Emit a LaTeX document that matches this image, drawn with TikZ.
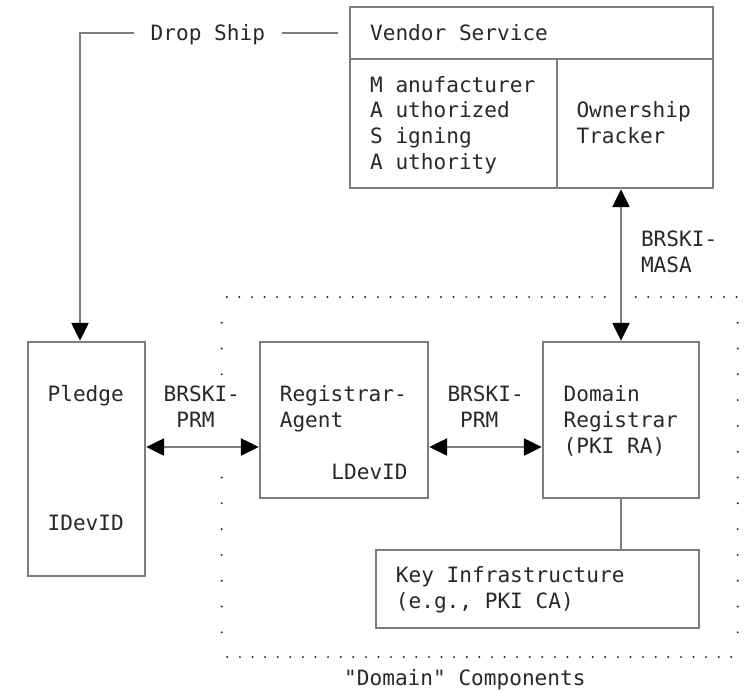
\documentclass[tikz,border=0pt]{standalone}
\usepackage{fontspec}
\usetikzlibrary{arrows.meta,positioning}
\newfontfamily\diagfont{DejaVu Sans Mono}
\definecolor{linegray}{RGB}{125,125,125}
\definecolor{inkgray}{RGB}{40,40,40}
\tikzset{
      mybox/.style 2 args={
        draw=linegray,
        line width=2.4pt,
        inner sep=0pt,
        minimum width=#1,
        minimum height=#2
      },
      mytext/.style={
        anchor=base west,
        inner sep=0pt,
        align=left,
        text=inkgray,
        font=\diagfont\fontsize{21.1pt}{25.8pt}\selectfont
      },
      mylink/.style={
        draw=linegray,
        line width=2.4pt
      },
      mydots/.style={
        draw=inkgray,
        line width=2.2pt,
        line cap=round,
        dash pattern=on 0pt off #1
      },
    }

\begin{document}
\begin{tikzpicture}[x=1pt,y=-1pt,>={Triangle[length=18pt,width=17pt,color=black]}]
  \useasboundingbox (0,0) rectangle (746,691);

  %Vendor service (multi-line texts sit on their last baseline)
  \node[mybox={363pt}{52pt}] (vendorhead) at (531.5,33) {};
  \node[mybox={207pt}{129pt}] (masa) at (453.5,123.5) {};
  \node[mybox={156pt}{129pt}] (tracker) at (635,123.5) {};
  \node[mytext] (vendortitle) at (369.9,40.5) {Vendor Service};
  \node[mytext] (masatext) at (369.9,169.5)
    {M anufacturer\\A uthorized\\S igning\\A uthority};
  \node[mytext] (trackertext) at (576.3,143.7) {Ownership\\Tracker};

  %Pledge
  \node[mybox={117pt}{234pt}] (pledge) at (86.5,459) {};
  \node[mytext] (pledgetitle) at (47.4,401.7) {Pledge};
  \node[mytext] (idevid) at (47.4,530.7) {IDevID};

  %Registrar agent
  \node[mybox={168pt}{156pt}] (agent) at (344,420) {};
  \node[mytext] (agenttitle) at (279.6,427.5) {Registrar-\\Agent};
  \node[mytext] (ldevid) at (331.2,479.1) {LDevID};

  %Domain registrar
  \node[mybox={156pt}{156pt}] (domain) at (621,420) {};
  \node[mytext] (domaintitle) at (563.4,453.3) {Domain\\Registrar\\(PKI RA)};

  %Key infrastructure
  \node[mybox={323pt}{78pt}] (keyinfra) at (537.5,589) {};
  \node[mytext] (keytitle) at (395.7,608.1) {Key Infrastructure\\(e.g., PKI CA)};

  %Protocol labels
  \node[mytext] (prmleft) at (163.5,427.5) {BRSKI-\\\hphantom{B}PRM};
  \node[mytext] (prmright) at (447.3,427.5) {BRSKI-\\\hphantom{B}PRM};
  \node[mytext] (masalabel) at (640.8,272.7) {BRSKI-\\MASA};
  \node[mytext,inner xsep=17pt] (dropship) at (133.5,40.5) {Drop Ship};

  %Domain border
  \draw[mydots=12.6pt] (226.7,297) -- (605.5,297);
  \draw[mydots=12.6pt] (635.7,297) -- (737.5,297);
  \draw[mydots=12.6pt] (227.3,657) -- (732.5,657);
  \draw[mydots=25.8pt] (221.7,322.7) -- (221.7,375);
  \draw[mydots=25.8pt] (221.7,477.5) -- (221.7,633);
  \draw[mydots=25.8pt] (737.7,322.7) -- (737.7,633);
  \node[mytext] (domainlabel) at (344,685.5) {"Domain" Components};

  %Connections
  \coordinate (shipcorner) at (80,33);
  \coordinate (shipend) at (338,33);
  \coordinate (prmrow) at (0,447);
  \draw[mylink,->] (shipcorner -| dropship.west) -- (shipcorner) -- (shipcorner |- pledge.north);
  \draw[mylink] (shipcorner -| dropship.east) -- (shipend);
  \draw[mylink,<->] (pledge.east |- prmrow) -- (agent.west |- prmrow);
  \draw[mylink,<->] (agent.east |- prmrow) -- (domain.west |- prmrow);
  \draw[mylink,<->] (tracker.south -| domain.north) -- (domain.north);
  \draw[mylink] (domain.south) -- (domain.south |- keyinfra.north);

\end{tikzpicture}
\end{document}
